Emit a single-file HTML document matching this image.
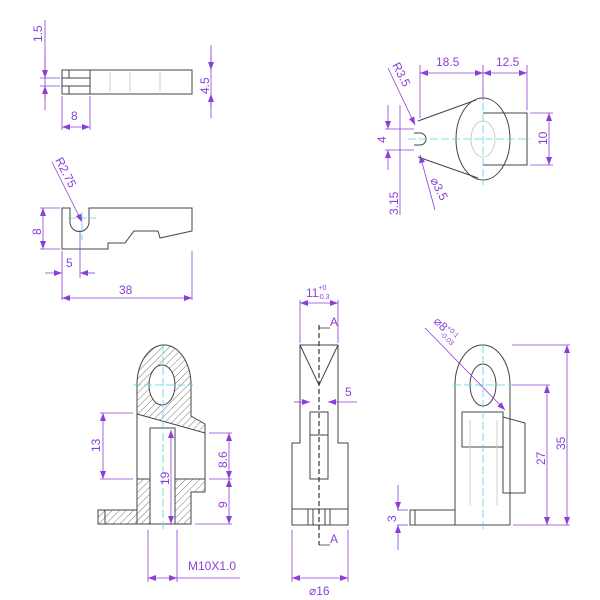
<!DOCTYPE html>
<html><head><meta charset="utf-8"><style>
html,body{margin:0;padding:0;background:#fff;}
svg{display:block;}
text{font-family:"Liberation Sans",sans-serif;fill:#8a3fd8;font-size:12px;}
</style></head><body>
<svg width="600" height="600" viewBox="0 0 600 600" xmlns="http://www.w3.org/2000/svg">
<defs>
<pattern id="h" patternUnits="userSpaceOnUse" width="5" height="5" patternTransform="rotate(45)">
<line x1="0" y1="0" x2="0" y2="5" stroke="#555" stroke-width="0.8"/>
</pattern>
<marker id="a" markerWidth="8" markerHeight="6" refX="8" refY="3" orient="auto-start-reverse" markerUnits="userSpaceOnUse">
<path d="M0,0 L8,3 L0,6 z" fill="#8a3fd8"/>
</marker>
</defs>
<g fill="none" stroke="#444" stroke-width="1">
<!-- view 1 -->
<rect x="62" y="70" width="130" height="24"/>
<line x1="62" y1="78" x2="90" y2="78"/><line x1="62" y1="86" x2="90" y2="86"/>
<line x1="69" y1="70" x2="69" y2="78"/><line x1="69" y1="86" x2="69" y2="94"/>
<line x1="90" y1="70" x2="90" y2="94"/>
<!-- view 2 -->
<path d="M62,208 L70,208 L70,222 A9.5,9.5 0 0 0 89,222 L89,208 L192,208 L192,231 L160,238 L158,231 L134,231 L125,243 L108,243 L108,249 L62,249 Z"/>
<!-- view 3 -->
<ellipse cx="483" cy="139" rx="27" ry="41"/>
<path d="M483,113 L527,113 L527,165 L483,165"/>
<line x1="418" y1="121" x2="476" y2="100"/><line x1="418" y1="157" x2="478" y2="178"/>
<path d="M414,133 L420,133 A6,6 0 0 1 420,145 L414,145"/>
<!-- middle bottom view -->
<path d="M300,345 L338,345 L338,443 L348,443 L348,525 L292,525 L292,443 L300,443 Z"/>
<path d="M300,345 L319,385 L338,345"/>
<line x1="292" y1="509" x2="348" y2="509"/>
<rect x="310" y="412" width="18" height="67"/>
<line x1="310" y1="435" x2="328" y2="435"/>
<line x1="308" y1="509" x2="308" y2="525"/><line x1="313" y1="509" x2="313" y2="525"/><line x1="325" y1="509" x2="325" y2="525"/><line x1="330" y1="509" x2="330" y2="525"/>
<!-- right bottom view -->
<path d="M455,525 L455,385 A27.5,40 0 0 1 510,385 L510,525"/>
<ellipse cx="483" cy="385" rx="13" ry="21"/>
<rect x="410" y="510" width="45" height="15"/>
<line x1="415" y1="510" x2="415" y2="525"/>
<line x1="455" y1="525" x2="510" y2="525"/>
<path d="M503,417 L525,423 L525,493 L503,493 Z"/>
<rect x="462" y="412" width="41" height="35"/>
</g>
<!-- hidden lines light -->
<g stroke="#ccc" stroke-width="1" fill="none">
<line x1="110" y1="72" x2="110" y2="92"/><line x1="130" y1="72" x2="130" y2="92"/><line x1="160" y1="72" x2="160" y2="92"/>
<ellipse cx="483" cy="139" rx="12" ry="18"/>
<line x1="470" y1="420" x2="470" y2="505"/><line x1="497" y1="420" x2="497" y2="505"/>
</g>
<!-- left bottom section -->
<g stroke="#444" stroke-width="1">
<path d="M137,385 A27,40 0 0 1 191,385 L191,416 L205,424 L205,433 L137,414 Z M175,385 A13,20 0 1 0 149,385 A13,20 0 1 0 175,385 Z" fill="url(#h)" fill-rule="evenodd"/>
<rect x="137" y="479" width="13" height="45" fill="url(#h)"/>
<path d="M175,479 L205,479 L205,492 L191,492 L191,524 L175,524 Z" fill="url(#h)"/>
<rect x="98" y="510" width="39" height="14" fill="url(#h)"/>
<line x1="105" y1="510" x2="105" y2="524"/>
<path d="M137,414 L137,479 M205,433 L205,479 M150,524 L150,428 L175,428 L175,524 M150,524 L175,524" fill="none"/>
</g>
<!-- centerlines -->
<g stroke="#4fd8e0" stroke-width="0.8" stroke-dasharray="8,3" fill="none">
<line x1="82" y1="212" x2="82" y2="240"/><line x1="68" y1="218" x2="96" y2="218"/>
<line x1="408" y1="139" x2="530" y2="139"/><line x1="483" y1="92" x2="483" y2="185"/>
<line x1="163" y1="345" x2="163" y2="530"/><line x1="133" y1="385" x2="193" y2="385"/>
<line x1="483" y1="345" x2="483" y2="530"/><line x1="453" y1="385" x2="513" y2="385"/>
</g>
<g stroke="#333" stroke-width="1.2" stroke-dasharray="5,3"><line x1="319" y1="325" x2="319" y2="545"/></g>
<!-- dimensions -->
<g stroke="#8a3fd8" stroke-width="0.8" fill="none">
<line x1="45" y1="20" x2="45" y2="110"/>
<line x1="45" y1="55" x2="45" y2="78" marker-end="url(#a)"/><line x1="45" y1="100" x2="45" y2="86" marker-end="url(#a)"/>
<line x1="40" y1="78" x2="60" y2="78"/><line x1="40" y1="86" x2="60" y2="86"/>
<line x1="211" y1="45" x2="211" y2="118"/>
<line x1="211" y1="55" x2="211" y2="70" marker-end="url(#a)"/><line x1="211" y1="108" x2="211" y2="94" marker-end="url(#a)"/>
<line x1="62" y1="96" x2="62" y2="130"/><line x1="90" y1="96" x2="90" y2="130"/>
<line x1="62" y1="127" x2="90" y2="127" marker-start="url(#a)" marker-end="url(#a)"/>
<line x1="52" y1="162" x2="82" y2="222" marker-end="url(#a)"/>
<line x1="40" y1="208" x2="60" y2="208"/><line x1="40" y1="249" x2="60" y2="249"/>
<line x1="43" y1="208" x2="43" y2="249" marker-start="url(#a)" marker-end="url(#a)"/>
<line x1="62" y1="251" x2="62" y2="300"/><line x1="80" y1="230" x2="80" y2="278"/><line x1="192" y1="251" x2="192" y2="300"/>
<line x1="45" y1="273" x2="62" y2="273" marker-end="url(#a)"/><line x1="95" y1="273" x2="80" y2="273" marker-end="url(#a)"/>
<line x1="62" y1="298" x2="192" y2="298" marker-start="url(#a)" marker-end="url(#a)"/>
<line x1="420" y1="65" x2="420" y2="118"/><line x1="483" y1="65" x2="483" y2="100"/><line x1="527" y1="65" x2="527" y2="110"/>
<line x1="420" y1="73" x2="483" y2="73" marker-start="url(#a)" marker-end="url(#a)"/>
<line x1="483" y1="73" x2="527" y2="73" marker-start="url(#a)" marker-end="url(#a)"/>
<line x1="530" y1="113" x2="553" y2="113"/><line x1="530" y1="165" x2="553" y2="165"/>
<line x1="549" y1="113" x2="549" y2="165" marker-start="url(#a)" marker-end="url(#a)"/>
<line x1="385" y1="129" x2="414" y2="129"/><line x1="385" y1="150" x2="414" y2="150"/>
<line x1="388" y1="105" x2="388" y2="129" marker-end="url(#a)"/><line x1="388" y1="170" x2="388" y2="150" marker-end="url(#a)"/>
<line x1="400" y1="105" x2="400" y2="215"/>
<line x1="388" y1="68" x2="415" y2="125" marker-end="url(#a)"/>
<line x1="435" y1="210" x2="420" y2="155" marker-end="url(#a)"/>
<line x1="300" y1="300" x2="300" y2="343"/><line x1="338" y1="300" x2="338" y2="343"/>
<line x1="300" y1="303" x2="338" y2="303" marker-start="url(#a)" marker-end="url(#a)"/>
<line x1="294" y1="402" x2="310" y2="402" marker-end="url(#a)"/><line x1="357" y1="402" x2="328" y2="402" marker-end="url(#a)"/>
<line x1="292" y1="530" x2="292" y2="582"/><line x1="348" y1="530" x2="348" y2="582"/>
<line x1="292" y1="578" x2="348" y2="578" marker-start="url(#a)" marker-end="url(#a)"/>
<line x1="100" y1="413" x2="133" y2="413"/><line x1="100" y1="479" x2="133" y2="479"/>
<line x1="103" y1="413" x2="103" y2="479" marker-start="url(#a)" marker-end="url(#a)"/>
<line x1="171" y1="430" x2="171" y2="524" marker-start="url(#a)" marker-end="url(#a)"/>
<line x1="209" y1="433" x2="232" y2="433"/><line x1="209" y1="479" x2="232" y2="479"/><line x1="195" y1="524" x2="232" y2="524"/>
<line x1="229" y1="433" x2="229" y2="479" marker-start="url(#a)" marker-end="url(#a)"/>
<line x1="229" y1="479" x2="229" y2="524" marker-start="url(#a)" marker-end="url(#a)"/>
<line x1="148" y1="530" x2="148" y2="582"/><line x1="177" y1="530" x2="177" y2="582"/>
<line x1="148" y1="578" x2="177" y2="578" marker-start="url(#a)" marker-end="url(#a)"/><line x1="177" y1="578" x2="240" y2="578"/>
<line x1="425" y1="328" x2="505" y2="410" marker-end="url(#a)"/>
<line x1="512" y1="345" x2="570" y2="345"/><line x1="512" y1="385" x2="550" y2="385"/><line x1="513" y1="525" x2="570" y2="525"/>
<line x1="567" y1="345" x2="567" y2="525" marker-start="url(#a)" marker-end="url(#a)"/>
<line x1="547" y1="385" x2="547" y2="525" marker-start="url(#a)" marker-end="url(#a)"/>
<line x1="397" y1="510" x2="408" y2="510"/><line x1="397" y1="525" x2="408" y2="525"/>
<line x1="398" y1="485" x2="398" y2="510" marker-end="url(#a)"/><line x1="398" y1="550" x2="398" y2="525" marker-end="url(#a)"/>
</g>
<g stroke="#333" stroke-width="0.8" fill="none"><path d="M319,328 L330,328 M319,545 L330,545"/></g>
<text x="330" y="326" font-size="11">A</text><text x="330" y="543" font-size="11">A</text>
<text transform="translate(42,42) rotate(-90)">1.5</text>
<text transform="translate(209,94) rotate(-90)">4.5</text>
<text x="71" y="120">8</text>
<text transform="translate(55,160) rotate(63)">R2.75</text>
<text transform="translate(41,235) rotate(-90)">8</text>
<text x="66" y="267">5</text>
<text x="119" y="294">38</text>
<text x="436" y="66">18.5</text><text x="496" y="66">12.5</text>
<text transform="translate(547,145) rotate(-90)">10</text>
<text transform="translate(386,143) rotate(-90)">4</text>
<text transform="translate(398,215) rotate(-90)">3.15</text>
<text transform="translate(392,65) rotate(63)">R3.5</text>
<text transform="translate(430,180) rotate(63)" font-size="11">⌀3.5</text>
<text x="306" y="297">11<tspan font-size="7" dy="-7">+0</tspan><tspan font-size="7" dx="-9" dy="9">-0.3</tspan></text>
<text x="345" y="396">5</text>
<text x="309" y="595">⌀16</text>
<text transform="translate(100,452) rotate(-90)">13</text>
<text transform="translate(169,485) rotate(-90)">19</text>
<text transform="translate(227,468) rotate(-90)">8.6</text>
<text transform="translate(227,508) rotate(-90)">9</text>
<text x="188" y="570">M10X1.0</text>
<text transform="translate(433,322) rotate(45)" font-size="10">⌀8<tspan font-size="7" dy="-5">+0.1</tspan><tspan font-size="7" dx="-14" dy="9">-0.03</tspan></text>
<text transform="translate(545,465) rotate(-90)">27</text>
<text transform="translate(565,450) rotate(-90)">35</text>
<text transform="translate(396,522) rotate(-90)">3</text>
</svg>
</body></html>
